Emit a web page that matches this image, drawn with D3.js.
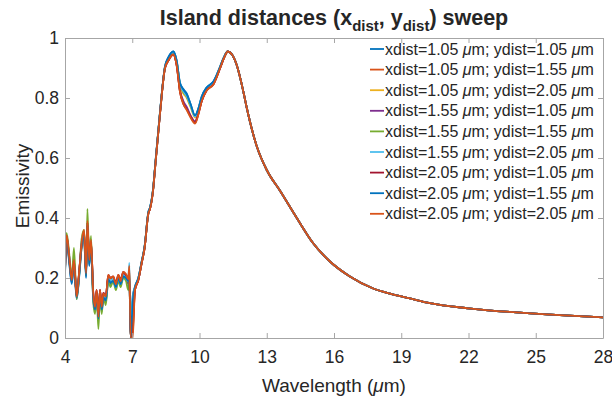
<!DOCTYPE html>
<html>
<head>
<meta charset="utf-8">
<script src="https://cdn.jsdelivr.net/npm/d3@7"></script>
<style>
  body { margin: 0; background: #fff; }
  text { font-family: "Liberation Sans", Arial, sans-serif; fill: #262626; }
</style>
</head>
<body>
<svg id="chart" width="612" height="396"></svg>
<script>
// wavelength grid (um) where the sweeps differ, then the shared tail
const headWl = [4.0,4.07,4.19,4.3,4.4,4.52,4.64,4.74,4.85,4.94,5.0,5.08,5.16,5.26,5.34,5.41,5.49,5.56,5.64,5.71,5.82,5.93,6.03,6.15,6.27,6.38,6.48,6.6,6.72,6.82,6.87,6.93,7.02,7.12,7.27,7.42,7.55,7.72,7.79,7.94,8.01,8.24,8.46,8.61,8.83,8.98,9.13,9.28,9.43,9.6,9.8,9.95,10.1,10.32,10.62,10.92,11.1];
const tailWl = [11.26,11.45,11.66,11.96,12.1,12.55,13.0,13.6,14.34,15.08,15.82,16.71,17.75,18.5,19.39,20.28,21.99,24.0,26.08,28.0];
const tailEm = [0.955,0.945,0.91,0.82,0.77,0.64,0.56,0.49,0.40,0.315,0.255,0.205,0.165,0.148,0.132,0.116,0.099,0.086,0.076,0.069];

const em11 = [0.21,0.33,0.25,0.18,0.24,0.13,0.21,0.30,0.33,0.2,0.37,0.24,0.3,0.13,0.09,0.15,0.06,0.14,0.09,0.13,0.12,0.19,0.18,0.19,0.17,0.2,0.18,0.205,0.2,0.19,0.22,0.0,0.14,0.17,0.2,0.255,0.305,0.42,0.435,0.505,0.565,0.755,0.905,0.935,0.955,0.925,0.85,0.83,0.815,0.78,0.74,0.765,0.805,0.835,0.855,0.905,0.938];
const em12 = [0.225,0.34,0.265,0.19,0.255,0.14,0.225,0.31,0.35,0.21,0.385,0.255,0.32,0.145,0.1,0.155,0.07,0.155,0.1,0.145,0.135,0.205,0.195,0.2,0.18,0.205,0.19,0.215,0.21,0.195,0.23,0.0,0.02,0.16,0.193,0.25,0.3,0.416,0.43,0.5,0.56,0.75,0.9,0.925,0.945,0.91,0.825,0.785,0.765,0.74,0.72,0.75,0.792,0.828,0.847,0.9,0.935];
const em13 = [0.22,0.33,0.26,0.2,0.25,0.14,0.22,0.3,0.34,0.22,0.38,0.25,0.31,0.14,0.1,0.15,0.07,0.15,0.1,0.14,0.13,0.2,0.19,0.2,0.175,0.2,0.185,0.21,0.205,0.19,0.22,0.0,0.1,0.165,0.197,0.252,0.302,0.418,0.432,0.502,0.562,0.752,0.902,0.93,0.95,0.92,0.84,0.815,0.8,0.77,0.735,0.76,0.8,0.832,0.85,0.902,0.936];
const em21 = [0.23,0.335,0.27,0.195,0.26,0.14,0.225,0.31,0.355,0.215,0.38,0.26,0.32,0.15,0.105,0.16,0.075,0.16,0.105,0.15,0.14,0.205,0.2,0.2,0.18,0.205,0.19,0.215,0.2,0.18,0.21,0.0,0.05,0.16,0.193,0.25,0.3,0.416,0.43,0.5,0.56,0.75,0.9,0.925,0.945,0.912,0.825,0.79,0.77,0.742,0.722,0.75,0.79,0.826,0.846,0.9,0.935];
const em22 = [0.25,0.35,0.28,0.2,0.3,0.13,0.22,0.33,0.36,0.21,0.43,0.25,0.34,0.12,0.08,0.15,0.03,0.14,0.08,0.14,0.11,0.19,0.17,0.19,0.16,0.19,0.17,0.2,0.19,0.16,0.2,0.0,0.12,0.165,0.197,0.252,0.302,0.418,0.432,0.502,0.562,0.752,0.902,0.93,0.95,0.92,0.845,0.82,0.805,0.775,0.74,0.762,0.8,0.832,0.85,0.902,0.936];
const em23 = [0.22,0.33,0.27,0.19,0.25,0.14,0.22,0.32,0.35,0.22,0.38,0.26,0.32,0.14,0.1,0.15,0.07,0.15,0.1,0.14,0.13,0.2,0.19,0.2,0.17,0.2,0.18,0.21,0.2,0.19,0.25,0.0,0.13,0.168,0.198,0.253,0.303,0.419,0.433,0.503,0.563,0.753,0.903,0.932,0.952,0.922,0.845,0.822,0.806,0.776,0.738,0.762,0.802,0.834,0.852,0.903,0.937];
const em31 = [0.22,0.34,0.26,0.2,0.25,0.14,0.23,0.31,0.35,0.215,0.385,0.26,0.32,0.15,0.1,0.16,0.07,0.16,0.1,0.15,0.14,0.21,0.2,0.205,0.185,0.21,0.195,0.22,0.21,0.2,0.2,0.0,0.03,0.16,0.193,0.25,0.3,0.416,0.43,0.5,0.56,0.75,0.9,0.925,0.945,0.91,0.82,0.78,0.762,0.738,0.717,0.747,0.79,0.826,0.846,0.9,0.935];
const em32 = [0.215,0.335,0.255,0.185,0.245,0.135,0.215,0.305,0.34,0.205,0.375,0.245,0.305,0.135,0.095,0.15,0.065,0.145,0.095,0.135,0.125,0.195,0.185,0.19,0.17,0.2,0.18,0.205,0.2,0.19,0.21,0.0,0.12,0.17,0.2,0.255,0.305,0.42,0.435,0.505,0.565,0.755,0.905,0.935,0.955,0.925,0.85,0.828,0.812,0.78,0.742,0.765,0.805,0.835,0.855,0.905,0.938];
const em33 = [0.227,0.343,0.27,0.193,0.26,0.138,0.227,0.316,0.36,0.216,0.39,0.26,0.327,0.149,0.104,0.16,0.071,0.16,0.104,0.149,0.138,0.21,0.2,0.205,0.18,0.21,0.19,0.22,0.213,0.196,0.24,0.0,0.0,0.16,0.193,0.25,0.3,0.416,0.43,0.5,0.56,0.75,0.9,0.925,0.945,0.91,0.82,0.78,0.76,0.735,0.715,0.745,0.79,0.825,0.845,0.9,0.935];

const xdists = ["1.05","1.05","1.05","1.55","1.55","1.55","2.05","2.05","2.05"];
const ydists = ["1.05","1.55","2.05","1.05","1.55","2.05","1.05","1.55","2.05"];
const heads = [em11, em12, em13, em21, em22, em23, em31, em32, em33];
const colors = ["#0072BD","#D95319","#EDB120","#7E2F8E","#77AC30","#4DBEEE","#A2142F","#0072BD","#D95319"];

const xTicks = [4,7,10,13,16,19,22,25,28];
const yTicks = [0,0.2,0.4,0.6,0.8,1];

const margin = {top: 38, right: 9, bottom: 58, left: 65};
const width = 612 - margin.left - margin.right;
const height = 396 - margin.top - margin.bottom;

const svg = d3.select("#chart");
const g = svg.append("g").attr("transform", "translate(" + margin.left + "," + margin.top + ")");

const x = d3.scaleLinear().domain([4, 28]).range([0, width]);
const y = d3.scaleLinear().domain([0, 1]).range([height, 0]);

const series = heads.map((h, i) => ({
  color: colors[i],
  xd: xdists[i], yd: ydists[i],
  pts: headWl.map((w, j) => [w, h[j]]).concat(tailWl.map((w, j) => [w, tailEm[j]]))
}));

g.append("clipPath").attr("id", "clip")
  .append("rect").attr("width", width).attr("height", height);

const line = d3.line()
  .curve(d3.curveMonotoneX)
  .x(d => x(d[0]))
  .y(d => y(d[1]));

g.append("g").attr("clip-path", "url(#clip)")
  .selectAll("path")
  .data(series)
  .join("path")
  .attr("d", d => line(d.pts))
  .attr("fill", "none")
  .attr("stroke", d => d.color)
  .attr("stroke-width", 1.8)
  .attr("stroke-linejoin", "round");

// axes, MATLAB style: box with inward ticks on all sides
function styleAxis(sel) {
  sel.select(".domain").attr("stroke", "#a6a6a6");
  sel.selectAll(".tick line").attr("stroke", "#a6a6a6");
  sel.selectAll(".tick text").style("font-size", "17.5px").attr("fill", "#262626");
}

g.append("g").attr("transform", "translate(0," + height + ")")
  .call(d3.axisBottom(x).tickValues(xTicks).tickSizeInner(-5).tickSizeOuter(0).tickPadding(13))
  .call(styleAxis);
g.append("g")
  .call(d3.axisTop(x).tickValues(xTicks).tickSizeInner(-5).tickSizeOuter(0).tickFormat(""))
  .call(styleAxis);
g.append("g")
  .call(d3.axisLeft(y).tickValues(yTicks).tickSizeInner(-5).tickSizeOuter(0).tickPadding(6).tickFormat(d3.format("~g")))
  .call(styleAxis);
g.append("g").attr("transform", "translate(" + width + ",0)")
  .call(d3.axisRight(y).tickValues(yTicks).tickSizeInner(-5).tickSizeOuter(0).tickFormat(""))
  .call(styleAxis);

// title with subscripts
const title = svg.append("text")
  .attr("x", margin.left + width / 2).attr("y", 25)
  .attr("text-anchor", "middle")
  .style("font-size", "21.5px").style("font-weight", "bold")
  .attr("fill", "#000");
title.append("tspan").text("Island distances (x");
title.append("tspan").attr("dy", 6).style("font-size", "15px").text("dist");
title.append("tspan").attr("dy", -6).text(", y");
title.append("tspan").attr("dy", 6).style("font-size", "15px").text("dist");
title.append("tspan").attr("dy", -6).text(") sweep");

// axis labels
const xl = svg.append("text")
  .attr("x", margin.left + width / 2).attr("y", 392)
  .attr("text-anchor", "middle").style("font-size", "19px");
xl.append("tspan").text("Wavelength (");
xl.append("tspan").style("font-style", "italic").text("\u03bc");
xl.append("tspan").text("m)");

svg.append("text")
  .attr("transform", "translate(28.5,186) rotate(-90)")
  .attr("text-anchor", "middle").style("font-size", "19px")
  .text("Emissivity");

// legend
const leg = g.append("g").attr("transform", "translate(305,11)");
const rows = leg.selectAll("g").data(series).join("g")
  .attr("transform", (d, i) => "translate(0," + (i * 20.6) + ")");
rows.append("line")
  .attr("x1", 0).attr("x2", 14).attr("y1", 0).attr("y2", 0)
  .attr("stroke", d => d.color).attr("stroke-width", 1.8);
const lt = rows.append("text").attr("x", 15).attr("dy", "0.35em").style("font-size", "16px");
lt.append("tspan").text(d => "xdist=" + d.xd + " ");
lt.append("tspan").style("font-style", "italic").text("\u03bc");
lt.append("tspan").text(d => "m; ydist=" + d.yd + " ");
lt.append("tspan").style("font-style", "italic").text("\u03bc");
lt.append("tspan").text("m");
</script>
</body>
</html>
